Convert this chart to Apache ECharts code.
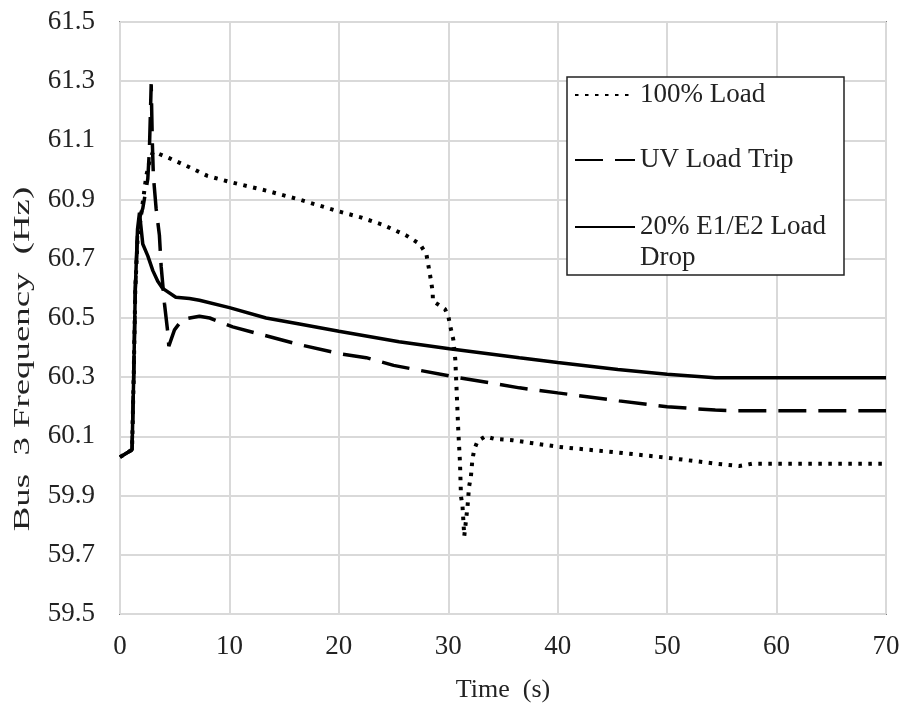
<!DOCTYPE html>
<html lang="en">
<head>
    <meta charset="UTF-8">
    <title>Bus 3 Frequency</title>
    <style>
        body {
            margin: 0;
            background: #fff;
        }
        #chart {
            width: 906px;
            height: 708px;
        }
    </style>
    <script src="https://cdn.jsdelivr.net/npm/echarts/dist/echarts.min.js"></script>
</head>
<body>
<div id="chart"></div>
<script>
    // 100% Load (dotted)
    const tLoad = [0, 1.1, 1.25, 1.4, 1.6, 1.9, 2.08, 2.4, 2.7, 3.0, 3.2, 4.5, 6.3, 8.0, 10.0, 13.4, 16.4, 20.0, 22.0, 24.0, 26.1, 27.4, 28.0, 28.3, 28.57, 28.6, 29.1, 29.7, 30.0, 30.25, 30.46, 30.64, 30.76, 30.91, 31.07, 31.16, 31.3, 31.46, 31.6, 31.76, 31.9, 32.07, 32.2, 32.37, 32.68, 33.38, 34.2, 35.87, 37.55, 40, 45.6, 50, 54.4, 56.6, 57.8, 70];
    const fLoad = [60.03, 60.055, 60.3, 60.6, 60.76, 60.84, 60.89, 60.98, 61.03, 61.06, 61.06, 61.04, 61.01, 60.98, 60.96, 60.93, 60.90, 60.86, 60.84, 60.815, 60.78, 60.75, 60.715, 60.653, 60.59, 60.557, 60.545, 60.53, 60.506, 60.461, 60.427, 60.36, 60.258, 60.123, 60.011, 59.898, 59.864, 59.763, 59.81, 59.864, 59.93, 59.965, 60.02, 60.056, 60.084, 60.10, 60.092, 60.087, 60.078, 60.065, 60.045, 60.028, 60.008, 60.0, 60.008, 60.008];

    // UV Load Trip (dashed)
    const tTrip = [0, 1.1, 1.25, 1.4, 1.6, 1.8, 2.08, 2.54, 2.69, 2.85, 2.95, 3.05, 3.3, 3.6, 3.76, 4.06, 4.37, 4.46, 4.98, 5.7, 7.26, 8.2, 10.3, 13.35, 16.4, 20, 22.5, 25, 30.7, 36.5, 40, 45.6, 50, 54.4, 56, 70];
    const fTrip = [60.03, 60.055, 60.3, 60.6, 60.78, 60.84, 60.87, 60.97, 61.07, 61.29, 61.1, 60.98, 60.87, 60.78, 60.675, 60.55, 60.45, 60.405, 60.46, 60.495, 60.506, 60.50, 60.47, 60.44, 60.41, 60.38, 60.366, 60.34, 60.30, 60.264, 60.247, 60.22, 60.20, 60.189, 60.187, 60.187];

    // 20% E1/E2 Load Drop (solid)
    const tDrop = [0, 1.1, 1.25, 1.4, 1.6, 1.78, 2.08, 2.54, 3.0, 3.45, 3.9, 5.1, 6.35, 7.26, 10.0, 13.35, 16.4, 20, 25.5, 30.1, 36.5, 40, 45.5, 50, 54.4, 56, 70];
    const fDrop = [60.03, 60.055, 60.3, 60.6, 60.8, 60.856, 60.75, 60.71, 60.66, 60.624, 60.60, 60.57, 60.566, 60.56, 60.535, 60.50, 60.48, 60.455, 60.42, 60.396, 60.366, 60.35, 60.326, 60.31, 60.298, 60.298, 60.298];

    const seriesNames = ['100% Load', 'UV Load Trip', '20% E1/E2 Load Drop'];

    function pairs(t, f) {
        return t.map((x, i) => [x, f[i]]);
    }

    const font = 'Liberation Serif';
    const ink = '#222';

    // one legend per entry so each can sit where the reference has it
    function legendEntry(name, top, extra) {
        return Object.assign({
            data: [name],
            orient: 'vertical',
            left: 574,
            top: top,
            padding: 0,
            itemWidth: 60,
            itemHeight: 14,
            itemStyle: { opacity: 0, borderWidth: 0 }, // no symbol in the icon
            textStyle: { fontFamily: font, fontSize: 27, color: ink, lineHeight: 31 }
        }, extra || {});
    }

    const chart = echarts.init(document.getElementById('chart'));

    chart.setOption({
        animation: false,
        color: ['#000', '#000', '#000'],
        grid: {
            left: 120,
            right: 20,
            top: 22,
            bottom: 94,
            show: true,
            borderColor: ink,
            borderWidth: 1.5
        },
        xAxis: {
            type: 'value',
            min: 0,
            max: 70,
            interval: 10,
            name: 'Time  (s)',
            nameLocation: 'middle',
            nameGap: 63,
            nameTextStyle: { fontFamily: font, fontSize: 26, color: ink },
            axisLine: { show: false },
            axisTick: { show: false },
            axisLabel: { fontFamily: font, fontSize: 27, color: ink, margin: 19 },
            splitLine: { lineStyle: { color: '#d9d9d9', width: 2 } }
        },
        yAxis: {
            type: 'value',
            min: 59.5,
            max: 61.5,
            interval: 0.2,
            axisLine: { show: false },
            axisTick: { show: false },
            axisLabel: {
                fontFamily: font, fontSize: 27, color: ink, margin: 25,
                formatter: v => v.toFixed(1)
            },
            splitLine: { lineStyle: { color: '#d9d9d9', width: 2 } }
        },
        legend: [
            legendEntry(seriesNames[0], 79.5),
            legendEntry(seriesNames[1], 144.5),
            // blank first line keeps the icon level with the first text line
            legendEntry(seriesNames[2], 180.5, { formatter: () => '\n20% E1/E2 Load\nDrop' })
        ],
        graphic: [
            {
                type: 'rect',
                z: 3,
                shape: { x: 567, y: 77, width: 277, height: 198 },
                style: { fill: '#fff', stroke: ink, lineWidth: 1.5 }
            },
            {
                type: 'text',
                x: 23,
                y: 359,
                rotation: Math.PI / 2,
                scaleX: 1.6,
                style: {
                    text: 'Bus  3 Frequency  (Hz)',
                    font: '23px "Liberation Serif"',
                    fill: ink,
                    align: 'center',
                    verticalAlign: 'middle'
                }
            }
        ],
        series: [
            {
                name: seriesNames[0],
                type: 'line',
                symbol: 'none',
                data: pairs(tLoad, fLoad),
                lineStyle: { color: '#000', width: 4, type: [3.5, 6.5] }
            },
            {
                name: seriesNames[1],
                type: 'line',
                symbol: 'none',
                data: pairs(tTrip, fTrip),
                lineStyle: { color: '#000', width: 3.5, type: [28, 12] }
            },
            {
                name: seriesNames[2],
                type: 'line',
                symbol: 'none',
                data: pairs(tDrop, fDrop),
                lineStyle: { color: '#000', width: 3.5 }
            }
        ]
    });
</script>
</body>
</html>
